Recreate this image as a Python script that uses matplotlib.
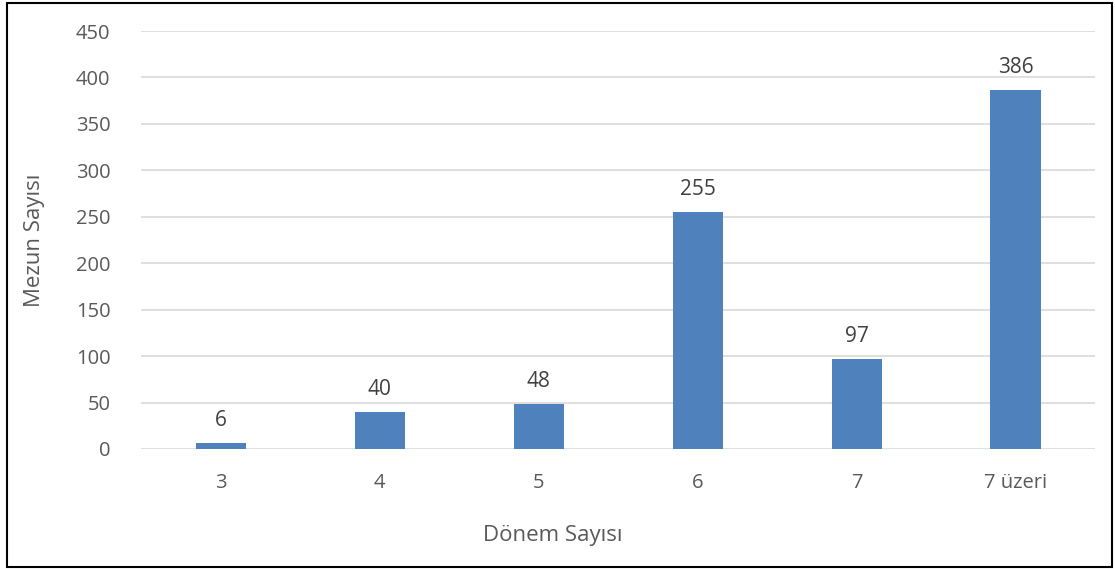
import matplotlib
matplotlib.use("Agg")
from matplotlib import pyplot as plt
from matplotlib.patches import Rectangle

# veriler
kategoriler = ["3", "4", "5", "6", "7", "7 üzeri"]
mezun = [6, 40, 48, 255, 97, 386]
y_ticks = [0, 50, 100, 150, 200, 250, 300, 350, 400, 450]

plt.rcParams['font.family'] = ['Open Sans', 'DejaVu Sans']
gri = '#595959'

fig = plt.figure(figsize=(11.15, 5.69), dpi=100)
ax = fig.add_axes([0.1265, 0.2109, 0.9821 - 0.1265, 0.9455 - 0.2109])

x = range(len(kategoriler))
bars = ax.bar(x, mezun, width=0.315, color='#4F81BD', zorder=3)
for xi, v in zip(x, mezun):
    ax.text(xi, v + 13, str(v), ha='center', va='bottom', fontsize=15, color='#404040')

ax.set_xlim(-0.5, len(kategoriler) - 0.5)
ax.set_ylim(0, 450)
ax.set_yticks(y_ticks)
ax.set_xticks(list(x))
ax.set_xticklabels(kategoriler)
ax.tick_params(axis='both', length=0, labelsize=14.5, labelcolor=gri)
ax.tick_params(axis='y', pad=22)
ax.tick_params(axis='x', pad=17)
ax.grid(axis='y', color='#D9D9D9', linewidth=1.2, zorder=0)
for s in ax.spines.values():
    s.set_visible(False)

fig.text(0.031, (0.2109 + 0.9455) / 2, 'Mezun Sayısı', rotation=90, ha='center', va='center',
         fontsize=16, color=gri)
fig.text(553 / 1115, 1 - 536 / 569, 'Dönem Sayısı', ha='center', va='center', fontsize=16, color=gri)

# çerçeve
fig.patches.append(Rectangle((6.5 / 1115, 2.5 / 569), (1112 - 6.5) / 1115, (566 - 2.5) / 569,
                             transform=fig.transFigure, fill=False, edgecolor='black', linewidth=1.5))

fig.savefig('out.png', dpi=100)
